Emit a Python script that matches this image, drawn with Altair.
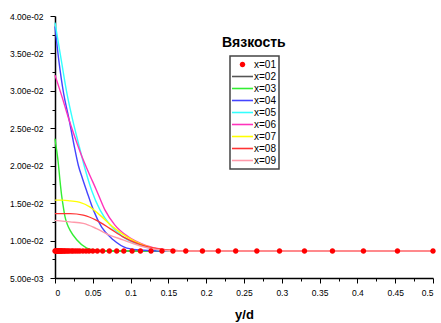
import altair as alt
import pandas as pd

# ---- data ----
SERIES = ["x=01", "x=02", "x=03", "x=04", "x=05", "x=06", "x=07", "x=08", "x=09"]
COLORS = ["#ff0000", "#555555", "#33ee33", "#4444ff", "#33ffff", "#ff33bb", "#ffff00", "#ff3333", "#ff99aa"]

x01_x = [0, 0.001, 0.002, 0.003, 0.004, 0.005, 0.006, 0.007, 0.008, 0.009, 0.010, 0.012,
         0.013, 0.015, 0.017, 0.019, 0.022, 0.024, 0.027, 0.030, 0.033, 0.037, 0.041, 0.045,
         0.050, 0.056, 0.063, 0.0719, 0.0816, 0.091, 0.102, 0.113, 0.127, 0.1415, 0.156,
         0.173, 0.195, 0.216, 0.239, 0.267, 0.297, 0.330, 0.367, 0.408, 0.453, 0.500]
x01_y = [0.0086] * len(x01_x)

x02_x = [0, 0.5]
x02_y = [0.0086, 0.0086]

x03_x = [0, 0.002, 0.0044, 0.0066, 0.0088, 0.011, 0.0132, 0.0165, 0.0198, 0.0287, 0.042, 0.055, 0.07, 0.5]
x03_y = [0.0236, 0.0222, 0.0203, 0.0180, 0.0160, 0.0145, 0.0132, 0.0121, 0.0114, 0.0101, 0.0090, 0.0087, 0.0086, 0.0086]

x04_x = [0, 0.005, 0.0115, 0.018, 0.0247, 0.031, 0.036, 0.042, 0.0507, 0.0617, 0.077, 0.095, 0.117, 0.14, 0.5]
x04_y = [0.0386, 0.0341, 0.0296, 0.0265, 0.0230, 0.0200, 0.0184, 0.0166, 0.0141, 0.0118, 0.0101, 0.0090, 0.0087, 0.0086, 0.0086]

x05_x = [0, 0.0083, 0.0159, 0.0225, 0.031, 0.0397, 0.0485, 0.0595, 0.0728, 0.090, 0.112, 0.1345, 0.16, 0.5]
x05_y = [0.0391, 0.0341, 0.0296, 0.0265, 0.0230, 0.0196, 0.0167, 0.0141, 0.0121, 0.0105, 0.0094, 0.0088, 0.0086, 0.0086]

x06_x = [0, 0.0093, 0.018, 0.027, 0.0357, 0.044, 0.055, 0.066, 0.079, 0.097, 0.119, 0.143, 0.17, 0.5]
x06_y = [0.0321, 0.0292, 0.0263, 0.0236, 0.0212, 0.0192, 0.0167, 0.0141, 0.0121, 0.0105, 0.0094, 0.0088, 0.0086, 0.0086]

x07_x = [0, 0.010, 0.0198, 0.033, 0.046, 0.0595, 0.077, 0.095, 0.117, 0.139, 0.165, 0.5]
x07_y = [0.0154, 0.0154, 0.0153, 0.0151, 0.0145, 0.0134, 0.0118, 0.0105, 0.0094, 0.0088, 0.0086, 0.0086]

x08_x = [0, 0.0198, 0.0374, 0.055, 0.0728, 0.090, 0.112, 0.1345, 0.152, 0.175, 0.5]
x08_y = [0.0136, 0.0136, 0.0134, 0.0127, 0.0116, 0.0105, 0.0095, 0.0089, 0.0087, 0.0086, 0.0086]

x09_x = [0, 0.0198, 0.0374, 0.055, 0.0728, 0.090, 0.112, 0.1345, 0.16, 0.5]
x09_y = [0.0127, 0.0125, 0.0123, 0.0116, 0.0107, 0.0101, 0.0093, 0.0088, 0.0086, 0.0086]

X_TICKS = [0, 0.025, 0.05, 0.075, 0.1, 0.125, 0.15, 0.175, 0.2, 0.225, 0.25, 0.275,
           0.3, 0.325, 0.35, 0.375, 0.4, 0.425, 0.45, 0.475, 0.5]
Y_TICKS = [0.005, 0.0075, 0.01, 0.0125, 0.015, 0.0175, 0.02, 0.0225, 0.025, 0.0275,
           0.03, 0.0325, 0.035, 0.0375, 0.04]

# legend / marker shapes (unit-space paths, scaled by the mark size)
DOT_PATH = "M-0.52,0A0.52,0.52 0 1,0 0.52,0A0.52,0.52 0 1,0 -0.52,0Z"
BAR_PATH = "M-2,-0.15H2V0.15H-2Z"
SHAPES = [DOT_PATH] + [BAR_PATH] * 8

# ---- tables ----
line_sets = [("x=02", x02_x, x02_y), ("x=03", x03_x, x03_y), ("x=04", x04_x, x04_y),
             ("x=05", x05_x, x05_y), ("x=06", x06_x, x06_y), ("x=07", x07_x, x07_y),
             ("x=08", x08_x, x08_y), ("x=09", x09_x, x09_y)]
rows = []
for name, xs, ys in line_sets:
    for i, (a, b) in enumerate(zip(xs, ys)):
        rows.append({"x": a, "y": b, "series": name, "order": i})
lines_df = pd.DataFrame(rows)
points_df = pd.DataFrame({"x": x01_x, "y": x01_y, "series": ["x=01"] * len(x01_x)})

FONT = "Liberation Sans"

x_enc = alt.X(
    "x:Q",
    scale=alt.Scale(domain=[0, 0.5], nice=False, zero=False),
    axis=alt.Axis(
        values=X_TICKS,
        labelExpr="round(datum.value*40) % 2 == 0 ? format(datum.value, '~g') : ''",
        tickSize={"condition": {"test": "round(datum.value*40) % 2 == 0", "value": 5}, "value": 3},
        grid=False,
        labelPadding=5,
        titlePadding=12,
    ),
    title="y/d",
)
y_enc = alt.Y(
    "y:Q",
    scale=alt.Scale(domain=[0.005, 0.04], nice=False, zero=False),
    axis=alt.Axis(
        values=Y_TICKS,
        labelExpr="round(datum.value*400) % 2 == 0 ? replace(format(datum.value, '.2e'), 'e-', 'e-0') : ''",
        tickSize={"condition": {"test": "round(datum.value*400) % 2 == 0", "value": 5}, "value": 3},
        grid=False,
        labelPadding=7,
    ),
    title=None,
)

color_scale = alt.Scale(domain=SERIES, range=COLORS)
shape_scale = alt.Scale(domain=SERIES, range=SHAPES)


def make_legend():
    return alt.Legend(
        orient="none",
        legendX=175,
        legendY=40,
        title=None,
        strokeColor="#444444",
        padding=3,
        labelFont=FONT,
        labelFontSize=10,
        labelColor="#000000",
        symbolSize=110,
        symbolStrokeWidth=0,
        symbolOffset=4,
        rowPadding=1,
        labelOffset=6,
    )


lines = alt.Chart(lines_df).mark_line(strokeWidth=1.4, interpolate="monotone").encode(
    x=x_enc,
    y=y_enc,
    color=alt.Color("series:N", scale=color_scale, legend=make_legend()),
    order="order:Q",
)
points = alt.Chart(points_df).mark_point(filled=True, size=110, opacity=1).encode(
    x=x_enc,
    y=y_enc,
    color=alt.Color("series:N", scale=color_scale, legend=make_legend()),
    shape=alt.Shape("series:N", scale=shape_scale, legend=make_legend()),
)

chart = (
    alt.layer(lines, points)
    .properties(
        width=378,
        height=262,
        autosize=alt.AutoSizeParams(type="none"),
        padding={"left": 55, "top": 16, "right": 8, "bottom": 45},
        title=alt.TitleParams(
            text="Вязкость",
            anchor="start",
            frame="group",
            dx=167,
            dy=49,
            baseline="alphabetic",
            offset=0,
            font=FONT,
            fontSize=14,
            fontWeight="bold",
            color="#000000",
        ),
    )
    .configure_view(stroke=None)
    .configure_axis(
        domainColor="#000000",
        domainWidth=1.5,
        tickColor="#000000",
        tickWidth=1,
        labelFont=FONT,
        labelFontSize=8.5,
        labelColor="#000000",
        titleFont=FONT,
        titleFontSize=13,
        titleFontWeight="bold",
        titleColor="#000000",
    )
    .configure_legend(strokeWidth=1.5)
)

chart.save("out.html", embed_options={"renderer": "svg", "actions": False})
